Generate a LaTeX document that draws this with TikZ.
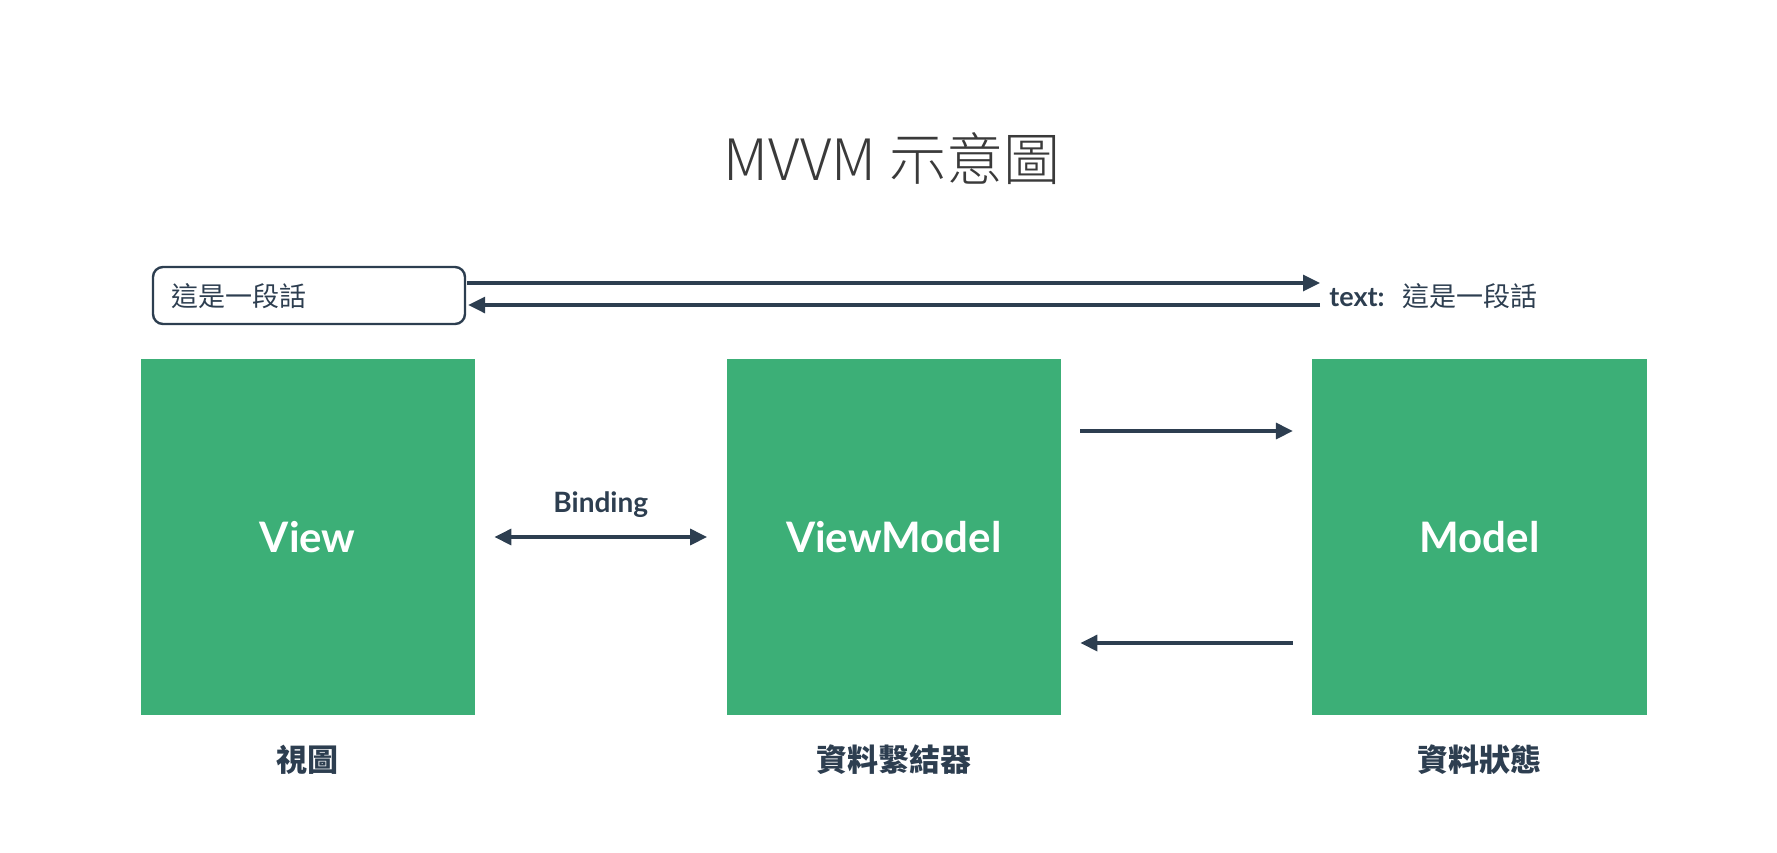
\documentclass[tikz,border=0pt]{standalone}
\usepackage{fontspec}
\setmainfont{Lato}
\newfontfamily\cjk{Noto Sans CJK TC}
\newfontfamily\cjkthin{Noto Sans CJK TC Light}
\usetikzlibrary{arrows.meta}
\definecolor{ink}{HTML}{2D3E50}
\definecolor{leaf}{HTML}{3CAF77}
\definecolor{titlegray}{HTML}{3A3A3A}
\tikzset{
  gbox/.style={fill=leaf, minimum width=167.25pt, minimum height=178pt, inner sep=0pt,
    text=white, font=\fontsize{21}{24}\selectfont\bfseries},
  arr/.style={draw=ink, line width=1.65pt, -{Triangle[length=8.5pt,width=8pt]}},
  arrboth/.style={draw=ink, line width=1.65pt, {Triangle[length=8.5pt,width=8pt]}-{Triangle[length=8.5pt,width=8pt]}},
  sub/.style={text=ink, font=\cjk\fontsize{15.5}{18}\selectfont\bfseries},
}
\begin{document}
\begin{tikzpicture}[x=0.5pt,y=-0.5pt]
\useasboundingbox (0,0) rectangle (1777,852);
\node[text=titlegray, font=\cjkthin\fontsize{28.5}{32}\selectfont] (title) at (892,159) {MVVM 示意圖};
\node[draw=ink, line width=1.2pt, rounded corners=5pt, minimum width=156pt, minimum height=28.5pt,
  inner sep=0pt, text=ink] (tb) at (309,295.5) {};
\node[anchor=west, text=ink, font=\cjk\fontsize{13.5}{16}\selectfont] (tbtext) at (164,296) {這是一段話};
\node[anchor=west, text=ink, inner sep=0pt] (lbl) at (1329,296)
  {\fontsize{13.5}{16}\selectfont\bfseries text:\hspace{9pt}\cjk\mdseries 這是一段話};
\coordinate (r1) at (1320,283);
\coordinate (r2) at (1320,305);
\draw[arr] (tb.east |- r1) ++(1,0) -- (r1);
\draw[arr] (r2) -- ([xshift=1pt]tb.east |- r2);
\node[gbox] (view) at (307.75,537) {View};
\node[gbox] (vm) at (893.75,537) {ViewModel};
\node[gbox] (model) at (1479.5,537) {Model};
\draw[arrboth] ([xshift=9.5pt]view.east) -- node[above=5.5pt, text=ink, font=\fontsize{14}{16}\selectfont\bfseries] (bind) {Binding} ([xshift=-9.5pt]vm.west);
\draw[arr] ([xshift=9.5pt,yshift=53pt]vm.east) -- ([xshift=-9.5pt,yshift=53pt]model.west);
\draw[arr] ([xshift=-9.5pt,yshift=-53pt]model.west) -- ([xshift=9.5pt,yshift=-53pt]vm.east);
\node[sub] (s1) at (307.75,760) {視圖};
\node[sub] (s2) at (893.75,760) {資料繫結器};
\node[sub] (s3) at (1479.5,760) {資料狀態};
\end{tikzpicture}
\end{document}
